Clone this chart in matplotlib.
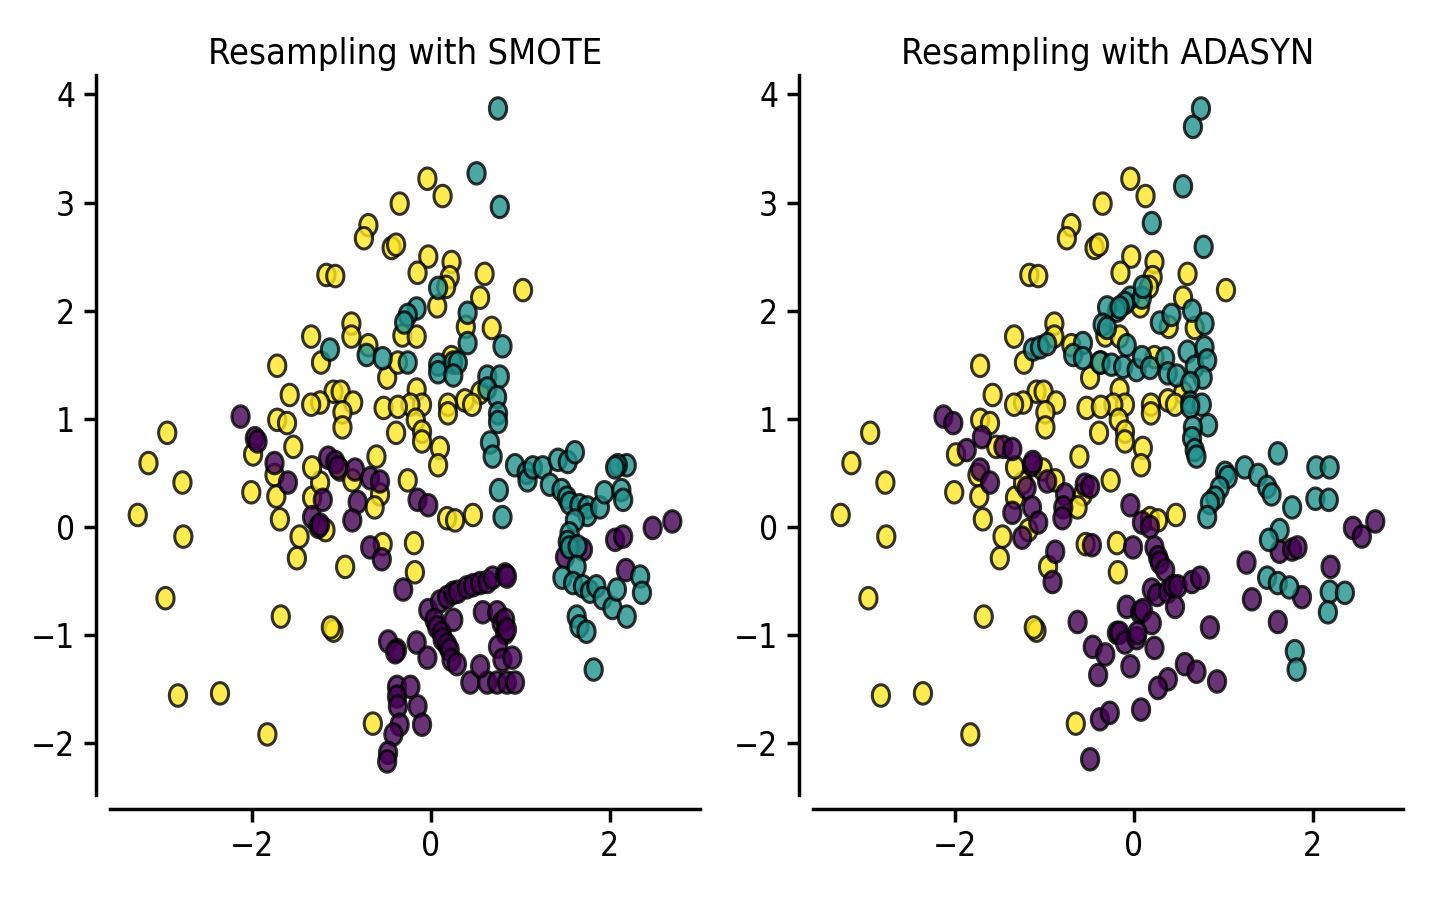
import numpy as np
import matplotlib
matplotlib.use("Agg")
import matplotlib.pyplot as plt
from matplotlib.path import Path
from matplotlib.colors import ListedColormap

# ---------------- data ----------------
# class 2 (yellow): original samples, identical in both panels
yellow_x = [-0.04, 0.13, -0.35, -0.70, -0.75, -0.44, -0.39, -0.03, 0.23, -0.15,
            0.21, 0.17, 0.60, -1.17, -1.07, 1.03, 0.07, 0.55, 0.39, 0.68,
            -0.89, -0.89, -1.34, -0.32, -0.16, -1.23, -0.70, -0.49, -0.37, 0.23,
            0.55, 0.38, 0.46, -0.16, -0.10, -0.23, -0.17, -0.53, -0.37, 0.19,
            0.19, -1.09, -1.01, -0.87, -0.99, -1.24, -1.34, -0.99, -0.39, -1.72,
            -1.58, -2.95, -3.16, -2.78, -3.28, -2.77, -2.97, -1.68, -2.83, -2.36,
            -1.83, -1.54, -1.99, -1.75, -2.01, -1.73, -1.69, -1.33, -1.47, -1.50,
            -1.24, -1.72, -1.61, -1.33, -0.10, -0.10, 0.10, 0.08, -0.61, -1.02,
            -0.88, -0.57, -0.63, -1.18, -0.26, 0.18, 0.27, 0.47, -0.19, -0.54,
            -0.96, -0.18, -1.09, -0.65, -1.12]
yellow_y = [3.22, 3.06, 2.99, 2.79, 2.67, 2.58, 2.61, 2.50, 2.45, 2.35,
            2.31, 2.22, 2.34, 2.33, 2.32, 2.19, 2.04, 2.12, 1.85, 1.84,
            1.88, 1.76, 1.76, 1.77, 1.76, 1.52, 1.68, 1.38, 1.52, 1.57,
            1.24, 1.17, 1.13, 1.27, 1.13, 1.13, 0.99, 1.10, 1.11, 1.13,
            1.05, 1.25, 1.25, 1.15, 1.06, 1.15, 1.13, 0.92, 0.87, 1.49,
            1.22, 0.87, 0.59, 0.41, 0.11, -0.09, -0.66, -0.83, -1.56, -1.54,
            -1.92, 0.74, 0.67, 0.48, 0.32, 0.28, 0.07, 0.27, -0.09, -0.29,
            0.41, 0.99, 0.96, 0.55, 0.88, 0.79, 0.73, 0.57, 0.65, 0.53,
            0.43, 0.30, 0.18, -0.03, 0.43, 0.08, 0.06, 0.11, -0.15, -0.16,
            -0.37, -0.42, -0.96, -1.82, -0.93]

# SMOTE, class 1 (teal)
smote_teal_x = [0.75, 0.51, 0.77, 0.08, -0.16, -0.26, -0.30, 0.41, 0.41, 0.80,
                -1.13, -0.72, -0.54, -0.26, 0.08, 0.08, 0.25, 0.30, 0.25, 0.63,
                0.77, 0.63, 0.74, 0.75, 0.75, 0.66, 0.69, 0.76, 0.80, 0.94,
                1.07, 1.08, 1.14, 1.25, 1.42, 1.53, 1.61, 1.33, 1.46, 1.52,
                1.55, 1.66, 1.75, 1.75, 1.89, 1.94, 2.13, 2.15, 2.19, 2.09,
                2.06, 1.61, 1.55, 1.53, 1.55, 1.64, 1.63, 1.47, 1.59, 1.70,
                1.78, 1.85, 1.92, 2.03, 2.08, 2.19, 2.34, 2.36, 1.63, 1.66,
                1.74, 1.82]
smote_teal_y = [3.87, 3.27, 2.96, 2.21, 2.02, 1.96, 1.89, 1.98, 1.70, 1.67,
                1.64, 1.59, 1.56, 1.52, 1.50, 1.43, 1.52, 1.52, 1.40, 1.39,
                1.39, 1.28, 1.20, 1.05, 0.97, 0.78, 0.65, 0.34, 0.09, 0.57,
                0.50, 0.43, 0.55, 0.55, 0.62, 0.60, 0.69, 0.39, 0.34, 0.27,
                0.22, 0.20, 0.18, 0.11, 0.18, 0.32, 0.34, 0.25, 0.57, 0.57,
                0.55, 0.06, -0.06, -0.14, -0.19, -0.18, -0.37, -0.47, -0.52, -0.55,
                -0.60, -0.55, -0.66, -0.75, -0.58, -0.83, -0.46, -0.61, -0.83, -0.92,
                -0.97, -1.32]

# SMOTE, class 0 (purple)
smote_purple_x = [-2.13, -1.97, -1.94, -1.75, -1.60, -1.33, -1.26, -1.24, -1.15, -1.07,
                  -1.04, -0.85, -0.68, -0.57, -1.21, -0.82, -0.88, -0.15, -0.03, -0.68,
                  -0.55, -0.31, -0.03, 0.10, 0.18, 0.25, 0.30, 0.40, 0.47, 0.55,
                  0.63, 0.69, 0.83, 0.04, 0.07, 0.12, 0.13, 0.18, 0.21, 0.25,
                  0.23, 0.29, 0.44, 0.63, 0.74, 0.85, 0.94, 0.55, 0.58, 0.74,
                  0.79, 0.83, 0.75, 0.80, 0.85, 0.83, 0.85, 0.91, -0.48, -0.38,
                  -0.40, -0.16, -0.04, -0.38, -0.23, -0.38, -0.37, -0.15, -0.35, -0.10,
                  -0.42, -0.48, -0.49, 2.48, 2.70, 2.06, 2.15, 1.70, 1.50, 2.18]
smote_purple_y = [1.02, 0.82, 0.79, 0.59, 0.41, 0.09, 0.00, 0.02, 0.64, 0.60,
                  0.55, 0.53, 0.45, 0.42, 0.25, 0.23, 0.06, 0.25, 0.20, -0.19,
                  -0.30, -0.58, -0.77, -0.69, -0.65, -0.61, -0.60, -0.56, -0.54, -0.52,
                  -0.51, -0.47, -0.44, -0.86, -0.93, -0.98, -1.04, -1.09, -1.14, -0.86,
                  -1.23, -1.27, -1.44, -1.44, -1.44, -1.44, -1.44, -1.29, -0.79, -0.79,
                  -0.89, -0.98, -1.11, -1.23, -0.46, -0.86, -0.95, -1.21, -1.06, -1.14,
                  -1.16, -1.07, -1.21, -1.48, -1.48, -1.57, -1.66, -1.66, -1.83, -1.83,
                  -1.92, -2.09, -2.17, -0.01, 0.05, -0.12, -0.09, -0.21, -0.28, -0.40]

# ADASYN, class 1 (teal)
adasyn_teal_x = [0.75, 0.66, 0.55, 0.20, 0.78, -0.04, -0.10, -0.19, 0.09, 0.10,
                 -0.30, -0.16, -0.35, -0.30, 0.29, 0.42, 0.65, 0.79, -1.13, -1.05,
                 -0.97, -0.57, -0.68, -0.57, -0.38, -0.25, -0.08, -0.12, 0.03, 0.09,
                 0.18, 0.35, 0.38, 0.48, 0.60, 0.68, 0.79, 0.82, 0.77, 0.63,
                 0.63, 0.76, 0.63, 0.83, 0.66, 0.65, 0.68, 0.70, 1.61, 1.24,
                 1.39, 1.49, 1.54, 1.02, 1.05, 0.96, 0.91, 0.85, 0.82, 1.77,
                 1.63, 1.51, 1.49, 1.61, 1.74, 1.80, 1.82, 2.04, 2.19, 2.03,
                 2.18, 2.19, 2.36, 2.17]
adasyn_teal_y = [3.87, 3.70, 3.15, 2.81, 2.59, 2.12, 2.07, 2.00, 2.12, 2.22,
                 2.03, 2.03, 1.87, 1.84, 1.89, 1.96, 2.00, 1.88, 1.64, 1.66,
                 1.69, 1.70, 1.59, 1.56, 1.52, 1.50, 1.68, 1.48, 1.45, 1.57,
                 1.47, 1.56, 1.42, 1.40, 1.62, 1.48, 1.66, 1.54, 1.38, 1.33,
                 1.15, 1.13, 1.11, 0.94, 0.92, 0.82, 0.71, 0.65, 0.68, 0.55,
                 0.48, 0.37, 0.30, 0.50, 0.46, 0.36, 0.27, 0.22, 0.09, 0.18,
                 -0.03, -0.12, -0.47, -0.52, -0.56, -1.15, -1.32, 0.55, 0.55, 0.26,
                 0.25, -0.60, -0.61, -0.79]

# ADASYN, class 0 (purple)
adasyn_purple_x = [-2.13, -2.02, -1.70, -1.87, -1.46, -1.36, -1.72, -1.61, -1.14, -1.13,
                   -1.20, -0.97, -0.77, -0.79, -0.80, -1.36, -1.14, -1.07, -1.25, -0.55,
                   -0.49, -0.88, -0.91, -0.47, -0.63, -0.46, -0.32, -0.40, -0.19, -0.38,
                   -0.27, -0.49, -0.04, 0.09, 0.18, -0.01, 0.23, 0.27, 0.29, 0.35,
                   0.20, 0.26, 0.38, 0.44, 0.49, 0.65, 0.74, 0.46, -0.08, 0.07,
                   0.10, 0.20, -0.16, -0.10, 0.03, 0.04, 0.23, -0.04, 0.57, 0.70,
                   0.38, 0.27, 0.93, 0.85, 0.08, 1.26, 1.32, 1.61, 1.63, 1.77,
                   1.83, 2.45, 2.55, 2.70, 2.20, 1.88]
adasyn_purple_y = [1.02, 0.96, 0.83, 0.71, 0.74, 0.72, 0.53, 0.41, 0.57, 0.60,
                   0.36, 0.42, 0.30, 0.18, 0.08, 0.13, 0.18, 0.04, -0.10, 0.39,
                   0.37, -0.23, -0.51, -0.17, -0.88, -1.11, -1.18, -1.37, -0.98, -1.78,
                   -1.72, -2.15, 0.20, 0.04, 0.00, -0.19, -0.19, -0.28, -0.33, -0.40,
                   -0.58, -0.63, -0.60, -0.55, -0.55, -0.51, -0.47, -0.74, -0.74, -0.79,
                   -0.77, -0.89, -0.98, -1.07, -1.03, -0.98, -1.12, -1.29, -1.27, -1.34,
                   -1.41, -1.49, -1.43, -0.93, -1.69, -0.33, -0.67, -0.88, -0.23, -0.21,
                   -0.19, -0.01, -0.09, 0.05, -0.37, -0.65]

titles = ["Resampling with SMOTE", "Resampling with ADASYN"]

# ---------------- style ----------------
plt.rcParams["font.family"] = ["DejaVu Sans"]
plt.rcParams["font.stretch"] = "condensed"

cmap = ListedColormap(["#440154", "#21918c", "#fde725"])

# markers look slightly taller than wide in the reference
t = np.linspace(0, 2 * np.pi, 60)
ellipse = Path(np.column_stack([0.8 * np.cos(t), np.sin(t)]), closed=True)

fig = plt.figure(figsize=(14.44, 9), dpi=100)
ax1 = fig.add_axes([0.0762, 0.1167, 0.4086, 0.8])
ax2 = fig.add_axes([0.563, 0.1167, 0.4086, 0.8])

panels = [(ax1, smote_purple_x, smote_purple_y, smote_teal_x, smote_teal_y),
          (ax2, adasyn_purple_x, adasyn_purple_y, adasyn_teal_x, adasyn_teal_y)]

for (ax, px, py, tx, ty), title in zip(panels, titles):
    xs = np.concatenate([yellow_x, px, tx])
    ys = np.concatenate([yellow_y, py, ty])
    cls = np.concatenate([np.full(len(yellow_x), 2), np.zeros(len(px)), np.ones(len(tx))])
    ax.scatter(xs, ys, c=cls, cmap=cmap, vmin=0, vmax=2, alpha=0.8,
               edgecolor="k", linewidth=2.2, s=240, marker=ellipse)
    ax.set_title(title, fontsize=26, pad=8)
    ax.set_xlim(-3.59, 3.01)
    ax.set_ylim(-2.48, 4.18)
    ax.set_xticks([-2, 0, 2])
    ax.set_yticks([-2, -1, 0, 1, 2, 3, 4])
    ax.tick_params(labelsize=24, length=9, width=2.5, pad=6)
    for side in ["top", "right"]:
        ax.spines[side].set_visible(False)
    for side in ["left", "bottom"]:
        ax.spines[side].set_linewidth(2.5)
        ax.spines[side].set_position(("outward", 10))

fig.savefig("out.png", dpi=100)
